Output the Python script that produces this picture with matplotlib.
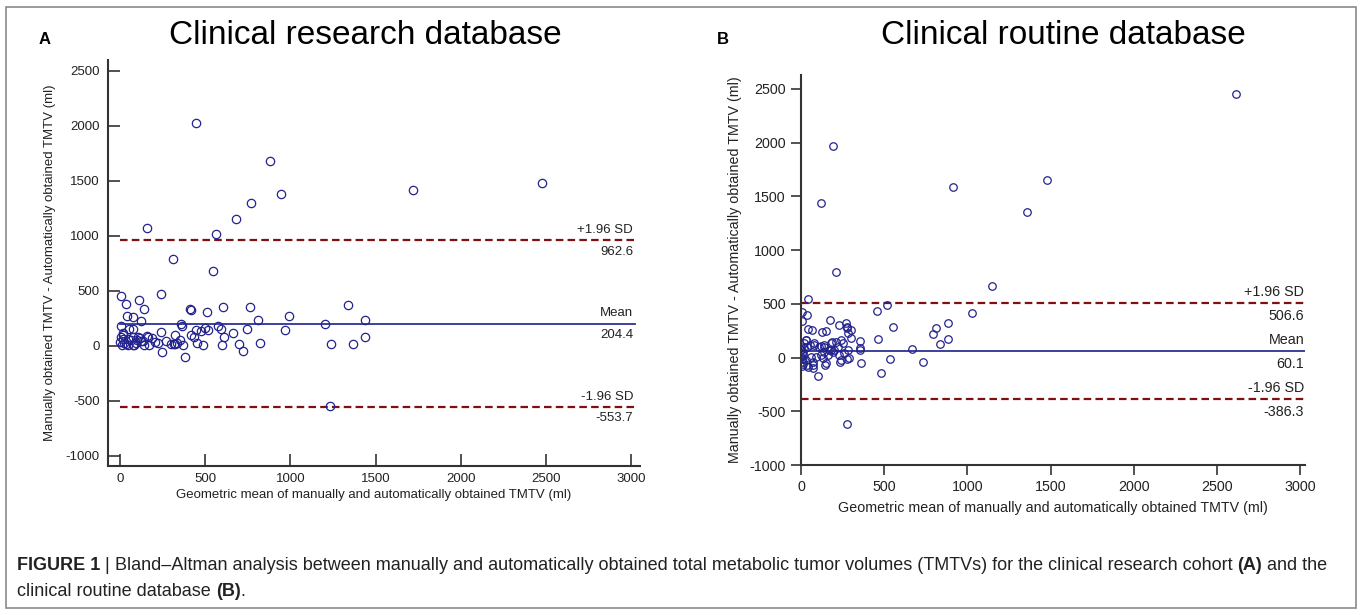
import matplotlib
matplotlib.use("Agg")
import matplotlib.pyplot as plt
from matplotlib.patches import Rectangle

# ---------------- data ----------------
# Panel A: clinical research database (geometric mean, difference)
a_mean = [444, 881, 944, 766, 678, 160, 563, 311, 547, 242, 5, 35, 111, 139, 41, 76, 123, 5, 51, 76,
          20, 357, 365, 412, 414, 510, 604, 762, 811, 993, 969, 1200, 1235, 1338, 1368, 1436, 1438, 242, 320, 244,
          379, 445, 475, 496, 514, 416, 436, 451, 487, 573, 590, 608, 598, 666, 701, 723, 744, 821, 371, 301,
          317, 272, 225, 166, 160, 187, 207, 170, 143, 121, 82, 94, 353, 320, 337, 1231, 1716, 2474,
          49, 33, 10, 3, 17, 23, 45, 62, 4, 78, 98, 117, 137, 20, 74, 108]
a_diff = [2027, 1679, 1382, 1300, 1158, 1073, 1018, 794, 685, 476, 451, 385, 418, 336, 276, 261, 224, 182, 157, 157,
          100, 203, 185, 333, 324, 312, 352, 357, 233, 270, 148, 197, 21, 376, 21, 233, 79, 127, 103, -55,
          -100, 142, 136, 161, 148, 97, 82, 27, 12, 182, 155, 85, 5, 115, 15, -45, 152, 27, 12, 18,
          21, 42, 24, 79, 94, 73, 33, 5, 9, 42, 9, 24, 58, 21, 30, -545, 1418, 1479,
          5, 20, 12, 36, 60, 30, 67, 55, 85, 85, 55, 70, 42, 115, 9, 85]
a_stats = {"upper": 962.6, "mean": 204.4, "lower": -553.7}

# Panel B: clinical routine database
b_mean = [44, 6, 38, 6, 176, 44, 66, 126, 148, 226, 270, 276, 280, 300, 356, 352, 358, 456, 464, 100,
          478, 192, 120, 208, 1147, 520, 1027, 552, 881, 813, 793, 881, 833, 668, 736, 535, 354, 274, 298, 32,
          276, 236, 186, 180, 140, 80, 120, 144, 70, 36, 276, 2614, 915, 1479, 1359,
          30, 20, 36, 54, 80, 110, 140, 180, 210, 240, 250, 220, 200, 170, 140, 120, 90, 60, 70, 70,
          40, 30, 10, 3, 240, 230, 260, 280, 290, 150, 190, 160, 130, 3, 10, 3, 5, 8, 12, 15, 5, 18]
b_diff = [545, 426, 399, 340, 349, 262, 253, 234, 246, 305, 318, 284, 225, 179, 156, 91, -54, 437, 169, -172,
          -142, 1969, 1441, 794, 668, 493, 417, 287, 320, 277, 215, 169, 124, 81, -39, -15, 70, 275, 256, 163,
          -14, -39, 141, 70, 98, 132, 107, -70, -100, -70, -622, 2456, 1587, 1655, 1354,
          163, 132, 101, 116, 116, 101, 116, 132, 147, 163, 132, 101, 70, 70, 54, 23, 8, 8, -39, -70,
          -85, -23, 23, 70, -23, 23, 39, 70, -8, -54, 54, 23, -8, 8, -39, 101, 40, -10, 55, -60, -80, 90]
b_stats = {"upper": 506.6, "mean": 60.1, "lower": -386.3}

titles = ["Clinical research database", "Clinical routine database"]
panel_letters = ["A", "B"]
ylabel = "Manually obtained TMTV - Automatically obtained TMTV (ml)"
xlabel = "Geometric mean of manually and automatically obtained TMTV (ml)"
xticks = [0, 500, 1000, 1500, 2000, 2500, 3000]
yticks = [-1000, -500, 0, 500, 1000, 1500, 2000, 2500]

# ---------------- style ----------------
plt.rcParams["font.family"] = ["Liberation Sans", "DejaVu Sans"]
plt.rcParams["axes.unicode_minus"] = False
W, H = 1362, 615
fig = plt.figure(figsize=(W / 100, H / 100), dpi=100)

pt_col = "#23238e"
mean_col = "#2e3192"
sd_col = "#800f0f"
spine_col = "#333333"


def px_rect(l, t, r, b):
    return [l / W, 1 - b / H, (r - l) / W, (b - t) / H]


def draw_panel(ax, xs, ys, stats, fs, ms, tickdir, ticklen, xlim, ylim, line_x0, line_x1, txt_x):
    ax.plot(xs, ys, linestyle="none", marker="o", ms=ms, mfc="none", mec=pt_col, mew=0.9, zorder=3)
    ax.plot([line_x0, line_x1], [stats["mean"], stats["mean"]], color=mean_col, lw=1.3, zorder=2)
    for key in ("upper", "lower"):
        ln, = ax.plot([line_x0, line_x1], [stats[key], stats[key]], color=sd_col, lw=1.6, zorder=2)
        ln.set_dashes([3.4, 1.9])
    labels = {"upper": "+1.96 SD", "mean": "Mean", "lower": "-1.96 SD"}
    for key in ("upper", "mean", "lower"):
        v = stats[key]
        ax.annotate(labels[key], (txt_x, v), xytext=(0, 3), textcoords="offset points",
                    ha="right", va="bottom", fontsize=fs, color="#222222")
        ax.annotate(f"{v:.1f}", (txt_x, v), xytext=(0, -4), textcoords="offset points",
                    ha="right", va="top", fontsize=fs, color="#222222")
    ax.set_xlim(*xlim)
    ax.set_ylim(*ylim)
    ax.set_xticks(xticks)
    ax.set_yticks(yticks)
    for s in ("top", "right"):
        ax.spines[s].set_visible(False)
    for s in ("left", "bottom"):
        ax.spines[s].set_color(spine_col)
        ax.spines[s].set_linewidth(1.5)
    ax.tick_params(direction=tickdir, length=ticklen, width=1.2, color=spine_col,
                   labelsize=fs, labelcolor="#222222")
    ax.set_xlabel(xlabel, fontsize=fs, color="#222222")
    ax.set_ylabel(ylabel, fontsize=fs, color="#222222")


# Panel A
axA = fig.add_axes(px_rect(108, 60, 640, 466))
draw_panel(axA, a_mean, a_diff, a_stats, fs=9.5, ms=6.0, tickdir="in", ticklen=8.5,
           xlim=(-70, 3050), ylim=(-1091, 2600), line_x0=0, line_x1=3020, txt_x=3010)
axA.tick_params(axis="x", pad=5)
axA.tick_params(axis="y", pad=6)
axA.xaxis.labelpad = 3
axA.yaxis.labelpad = 7

# Panel B
axB = fig.add_axes(px_rect(801, 75, 1305, 465))
draw_panel(axB, b_mean, b_diff, b_stats, fs=10.3, ms=5.4, tickdir="out", ticklen=7,
           xlim=(0, 3030), ylim=(-1000, 2630), line_x0=0, line_x1=3030, txt_x=3025)
axB.tick_params(pad=4)
axB.xaxis.labelpad = 5
axB.yaxis.labelpad = 5

# Titles and panel letters
fig.text(365 / W, 1 - 35 / H, titles[0], fontsize=24, ha="center", va="center")
fig.text(1063 / W, 1 - 35 / H, titles[1], fontsize=24, ha="center", va="center")
fig.text(45 / W, 1 - 40 / H, panel_letters[0], fontsize=12, fontweight="bold", ha="center", va="center")
fig.text(723 / W, 1 - 40 / H, panel_letters[1], fontsize=12, fontweight="bold", ha="center", va="center")

# Caption with mixed bold pieces
cap_lines = [
    [("FIGURE 1", True), (" | ", False),
     ("Bland\u2013Altman analysis between manually and automatically obtained total metabolic tumor volumes (TMTVs) for the clinical research cohort ", False),
     ("(A)", True), (" and the", False)],
    [("clinical routine database ", False), ("(B)", True), (".", False)],
]
cap_y = [1 - 565 / H, 1 - 591 / H]
renderer = fig.canvas.get_renderer()
for pieces, yy in zip(cap_lines, cap_y):
    x = 17 / W
    for txt, bold in pieces:
        t = fig.text(x, yy, txt, fontsize=13, fontweight="bold" if bold else "normal",
                     ha="left", va="center", color="#222222")
        bb = t.get_window_extent(renderer=renderer)
        x += bb.width / W

# Outer frame
fig.patches.append(Rectangle((6 / W, 1 - 608 / H), 1350 / W, 601 / H, transform=fig.transFigure,
                             fill=False, edgecolor="#8a8a8a", lw=1.2))

fig.savefig("out.png", dpi=100)
